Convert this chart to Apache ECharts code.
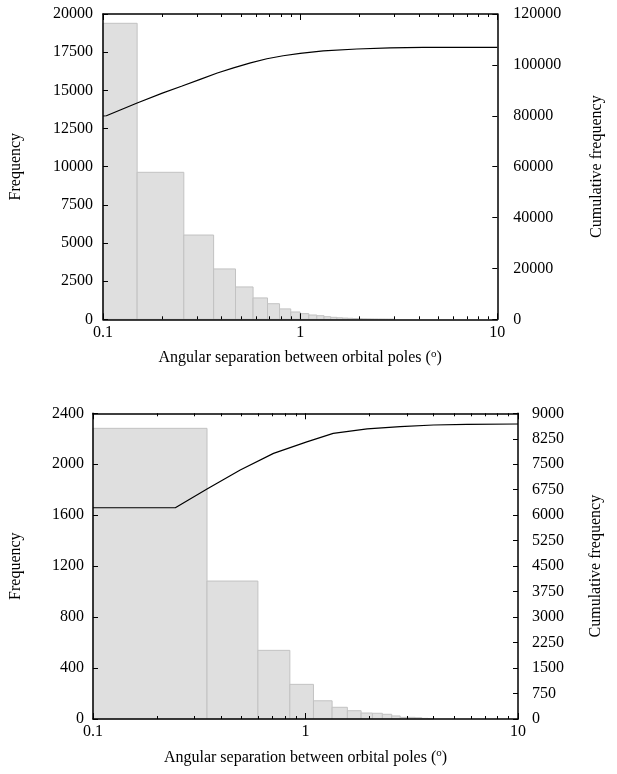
<!DOCTYPE html>
<html>
<head>
<meta charset="utf-8">
<script src="https://cdn.jsdelivr.net/npm/echarts@6/dist/echarts.min.js"></script>
<style>
html,body{margin:0;padding:0;background:#fff;}
#c{width:617px;height:774px;}
</style>
</head>
<body>
<div id="c"></div>
<script>
// ---------- Data ----------
// Top panel histogram: bin edges (deg) and frequencies
const topEdges = [0.1, 0.149, 0.257, 0.364, 0.47, 0.577, 0.683, 0.786, 0.896, 1.0, 1.107, 1.215, 1.322, 1.429, 1.535, 1.642, 1.748, 1.855, 1.961, 2.068, 2.174, 2.281, 2.387, 2.494, 2.6, 2.707, 2.813, 2.92, 3.026];
const topFreq  = [19390, 9630, 5520, 3300, 2120, 1400, 1020, 680, 480, 370, 280, 235, 170, 130, 100, 80, 65, 50, 40, 30, 25, 20, 15, 12, 10, 8, 6, 5];
// Top panel cumulative curve
const topCumX = [0.1, 0.104, 0.149, 0.2, 0.25, 0.311, 0.38, 0.459, 0.56, 0.678, 0.82, 1.0, 1.31, 1.94, 2.86, 4.2, 10];
const topCumY = [79900, 80000, 85000, 88900, 91600, 94300, 96800, 98800, 100800, 102400, 103600, 104500, 105500, 106250, 106700, 106900, 106900];

// Bottom panel histogram
const botEdges = [0.1, 0.344, 0.597, 0.844, 1.09, 1.334, 1.574, 1.827, 2.065, 2.3, 2.545, 2.79, 3.035, 3.28, 3.525, 3.77, 4.015];
const botFreq  = [2282, 1083, 539, 272, 143, 92, 65, 47, 45, 37, 24, 13, 13, 10, 5, 3];
// Bottom panel cumulative curve
const botCumX = [0.1, 0.244, 0.344, 0.493, 0.707, 1.014, 1.35, 1.95, 2.79, 4.0, 5.74, 10];
const botCumY = [6220, 6220, 6770, 7330, 7820, 8160, 8410, 8540, 8606, 8656, 8676, 8685];

// Axis ticks / labels
const xLabelValues = [0.1, 1, 10];
const xMinorTicks = [0.2, 0.3, 0.4, 0.5, 0.6, 0.7, 0.8, 0.9, 2, 3, 4, 5, 6, 7, 8, 9];
const xTitle = 'Angular separation between orbital poles ({sup|o})';
const yLeftTitle = 'Frequency';
const yRightTitle = 'Cumulative frequency';
const topLeftAxis = {min: 0, max: 20000, interval: 2500};
const topRightAxis = {min: 0, max: 120000, interval: 20000};
const botLeftAxis = {min: 0, max: 2400, interval: 400};
const botRightAxis = {min: 0, max: 9000, interval: 750};

// ---------- Build ----------
const FONT = 'Liberation Serif';
const FS = 16;
const txt = {color: '#000', fontFamily: FONT, fontSize: FS};

function bins(edges, freq) {
  return freq.map((f, i) => [edges[i], edges[i + 1], f]);
}
function pairs(xs, ys) { return xs.map((x, i) => [x, ys[i]]); }

const axisLine = {show: true, lineStyle: {color: '#000', width: 1.5}};

function xAxes(gridIndex, nameGap) {
  const base = {gridIndex, type: 'log', logBase: 10, min: 0.1, max: 10, z: 10, splitLine: {show: false}};
  return [
    Object.assign({}, base, {
      position: 'bottom',
      axisLine,
      axisTick: {show: true, inside: true, length: 6, customValues: xLabelValues, lineStyle: {color: '#000'}},
      axisLabel: Object.assign({margin: 5, customValues: xLabelValues, formatter: v => String(+(+v).toPrecision(3))}, txt),
      name: xTitle, nameLocation: 'middle', nameGap,
      nameTextStyle: Object.assign({}, txt, {rich: {sup: {fontFamily: FONT, fontSize: 11, color: '#000', verticalAlign: 'top', padding: [0, 0, 8, 0]}}})
    }),
    Object.assign({}, base, {
      position: 'bottom', axisLine: {show: false},
      axisTick: {show: true, inside: true, length: 3, customValues: xMinorTicks, lineStyle: {color: '#000'}},
      axisLabel: {show: false}
    }),
    Object.assign({}, base, {
      position: 'top', axisLine,
      axisTick: {show: true, inside: true, length: 6, customValues: xLabelValues, lineStyle: {color: '#000'}},
      axisLabel: {show: false}
    }),
    Object.assign({}, base, {
      position: 'top', axisLine: {show: false},
      axisTick: {show: true, inside: true, length: 3, customValues: xMinorTicks, lineStyle: {color: '#000'}},
      axisLabel: {show: false}
    })
  ];
}

function yAxis(gridIndex, position, range, name, nameGap, margin) {
  return Object.assign({
    gridIndex, type: 'value', position, z: 10,
    axisLine, splitLine: {show: false},
    axisTick: {show: true, inside: true, length: 5, lineStyle: {color: '#000'}},
    axisLabel: Object.assign({margin, formatter: v => String(v)}, txt),
    name, nameLocation: 'middle', nameGap, nameRotate: 90,
    nameTextStyle: txt
  }, range);
}

function histSeries(xAxisIndex, yAxisIndex, data) {
  return {
    type: 'custom', xAxisIndex, yAxisIndex, z: 1,
    encode: {x: [0, 1], y: 2},
    data,
    renderItem(params, api) {
      const p0 = api.coord([api.value(0), api.value(2)]);
      const p1 = api.coord([api.value(1), 0]);
      return {
        type: 'rect',
        shape: {x: p0[0], y: p0[1], width: p1[0] - p0[0], height: p1[1] - p0[1]},
        style: {fill: '#dfdfdf', stroke: '#c2c2c2', lineWidth: 1}
      };
    }
  };
}

function lineSeries(xAxisIndex, yAxisIndex, data) {
  return {
    type: 'line', xAxisIndex, yAxisIndex, z: 3, data,
    showSymbol: false, symbol: 'none', smooth: false,
    lineStyle: {color: '#000', width: 1.2}
  };
}

const chart = echarts.init(document.getElementById('c'), null, {renderer: 'canvas'});
chart.setOption({
  animation: false,
  backgroundColor: '#fff',
  grid: [
    {left: 102.7, right: 119.7, top: 14, height: 305.3},
    {left: 92.7, right: 99, top: 413.3, height: 305.7}
  ],
  xAxis: [].concat(xAxes(0, 29), xAxes(1, 29)),
  yAxis: [
    yAxis(0, 'left', topLeftAxis, yLeftTitle, 79, 10),
    yAxis(0, 'right', topRightAxis, yRightTitle, 91, 16),
    yAxis(1, 'left', botLeftAxis, yLeftTitle, 69, 9),
    yAxis(1, 'right', botRightAxis, yRightTitle, 70, 14)
  ],
  series: [
    histSeries(0, 0, bins(topEdges, topFreq)),
    lineSeries(0, 1, pairs(topCumX, topCumY)),
    histSeries(4, 2, bins(botEdges, botFreq)),
    lineSeries(4, 3, pairs(botCumX, botCumY))
  ]
});
</script>
</body>
</html>
